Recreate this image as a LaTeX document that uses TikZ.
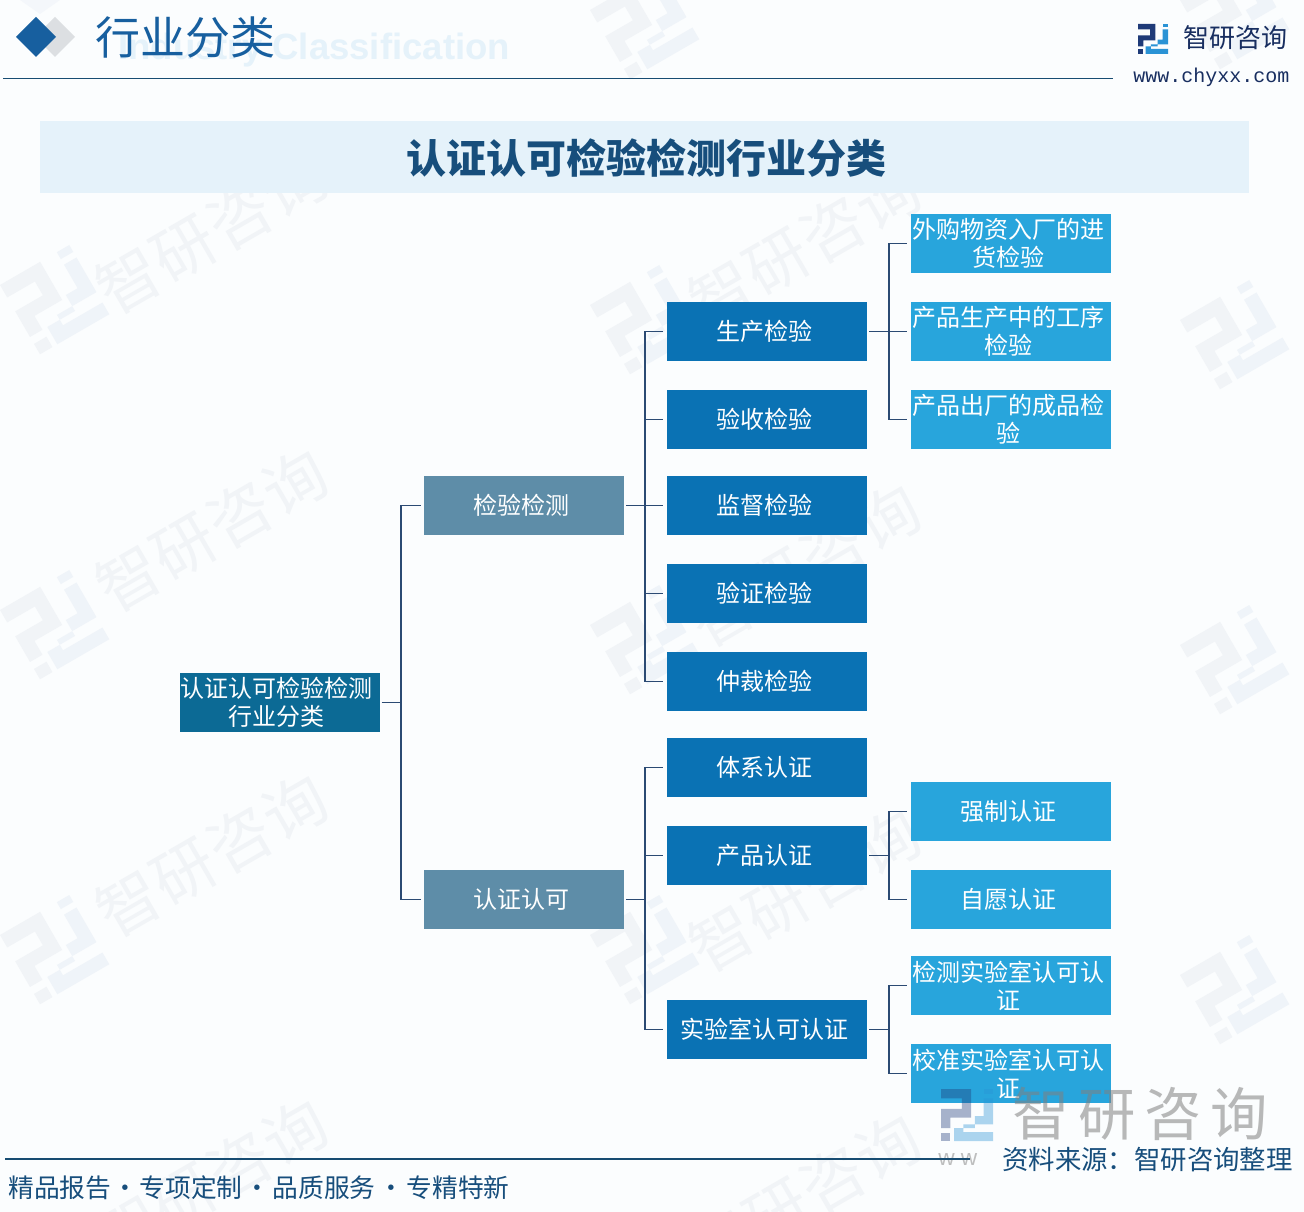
\documentclass[tikz,border=0pt]{standalone}
\usepackage{fontspec}
\setmainfont{Noto Sans CJK SC}
\newfontfamily\latinsans{Liberation Sans}
\newfontfamily\latinmono{Liberation Mono}
\definecolor{pagebg}{HTML}{FBFDFE}
\definecolor{band}{HTML}{E5F2FA}
\definecolor{rootc}{HTML}{0C6A95}
\definecolor{lonec}{HTML}{5E8DA8}
\definecolor{ltwoc}{HTML}{0A72B4}
\definecolor{lthreec}{HTML}{28A5DC}
\definecolor{linkc}{HTML}{2B4A73}
\definecolor{rulec}{HTML}{174C72}
\definecolor{headc}{HTML}{175F9F}
\definecolor{titlec}{HTML}{174E7C}
\definecolor{navy}{HTML}{1E3A78}
\definecolor{sky}{HTML}{2A93D5}
\definecolor{wmark}{HTML}{F1F4F7}
\definecolor{wmarkb}{HTML}{EFF4F9}
\newcommand\tk{\hspace*{3pt}}
\tikzset{
  x=.75pt,y=-.75pt,
  boxbase/.style={minimum width=150pt,minimum height=44.25pt,inner sep=0pt,text=white,align=center,
    font=\fontsize{18}{21}\selectfont},
  rootbox/.style={boxbase,fill=rootc},
  lonebox/.style={boxbase,fill=lonec},
  ltwobox/.style={boxbase,fill=ltwoc},
  lthreebox/.style={boxbase,fill=lthreec},
  conn/.style={draw=linkc,line width=1.1pt},
  wmtext/.style={text=wmark,font=\fontsize{47}{50}\selectfont,inner sep=0pt},
  logomark/.pic={
    \fill[pic actions,fill=\logoa] (0,0)--(.58,0)--(.58,.55)--(.18,.55)--(.18,.75)--(0,.75)--(0,.38)--(.4,.38)--(.4,.18)--(0,.18)--cycle;
    \fill[pic actions,fill=\logoa] (0,.85) rectangle (.18,1);
    \fill[pic actions,fill=\logob] (.82,0) rectangle (1,.1);
    \fill[pic actions,fill=\logob] (.25,.75)--(.25,1)--(1,1)--(1,.83)--(.43,.83)--(.43,.68)--(1,.68)--(1,.18)--(.82,.18)--(.82,.52)--(.65,.52)--(.65,.75)--cycle;
  },
}
\newcommand\logoa{navy}
\newcommand\logob{sky}
\begin{document}
\begin{tikzpicture}
\useasboundingbox (0,0) rectangle (1304,1212);
\fill[pagebg] (0,0) rectangle (1304,1212);

% faint watermarks
\begingroup
\renewcommand\logoa{wmark}\renewcommand\logob{wmarkb}
\foreach \i/\px/\py in {1/212/232,2/212/530,3/212/855,4/212/1180,5/805/245,6/805/565,7/805/890,8/805/1195}{
  \node[wmtext,rotate=30] (wm\i) at (\px,\py) {智\hspace{1pt}研\hspace{1pt}咨\hspace{1pt}询};
}
\foreach \px/\py in {0/285,0/610,0/935,590/305,590/625,590/935,1180/320,1180/645,1180/975,590/10,1180/0}{
  \pic[rotate=30,scale=80] at (\px,\py) {logomark};
}
\endgroup

% header
\fill[wmarkb!70!white] (20,0) -- (60,0) -- (40,14) -- cycle;
\node[anchor=west,inner sep=0pt,text=band,font=\latinsans\bfseries\fontsize{27.4}{30}\selectfont] (ghost) at (118,50) {Industry Classification};
\fill[wmarkb!60!lightgray] (55,17) -- (75,37) -- (55,57) -- (35,37) -- cycle;
\fill[headc] (36,17) -- (56,37) -- (36,57) -- (16,37) -- cycle;
\node[anchor=west,inner sep=0pt,text=headc,font=\fontsize{33.75}{36}\selectfont] (head) at (95,37) {行业分类};
\coordinate (hl) at (3,78.5);
\coordinate (hr) at (1113,78.5);
\draw[rulec,line width=1.1pt] (hl) -- (hr);

% top-right logo
\pic[scale=30] at (1138,24) {logomark};
\node[anchor=west,inner sep=0pt,text=navy!80!black,font=\fontsize{19.5}{22}\selectfont] (brand) at (1183,38) {智研咨询};
\node[anchor=west,inner sep=0pt,text=navy!80!black,font=\latinmono\fontsize{15}{17}\selectfont] (web) at (1133,77) {www.chyxx.com};

% title band
\fill[band] (40,121) rectangle (1249,193);
\node[inner sep=0pt,text=titlec,font=\bfseries\fontsize{30}{34}\selectfont] (title) at (646.5,158) {认证认可检验检测行业分类};

% boxes
\node[rootbox] (root) at (280,702.5) {认证认可检验检测\tk\tk\\行业分类\tk\tk};
\node[lonebox] (jc) at (523.5,505.5) {检验检测\tk};
\node[lonebox] (rz) at (523.5,899.5) {认证认可\tk};

\node[ltwobox] (sc) at (766.5,331.5) {生产检验\tk};
\node[ltwobox] (ys) at (766.5,419.5) {验收检验\tk};
\node[ltwobox] (jd) at (766.5,505.5) {监督检验\tk};
\node[ltwobox] (yz) at (766.5,593.5) {验证检验\tk};
\node[ltwobox] (zc) at (766.5,681.5) {仲裁检验\tk};
\node[ltwobox] (tx) at (766.5,767.5) {体系认证\tk};
\node[ltwobox] (cp) at (766.5,855.5) {产品认证\tk};
\node[ltwobox] (sy) at (766.5,1029.5) {实验室认可认证\tk};

\node[lthreebox] (wg) at (1010.5,243.5) {外购物资入厂的进\tk\\货检验\tk};
\node[lthreebox] (gx) at (1010.5,331.5) {产品生产中的工序\tk\\检验\tk};
\node[lthreebox] (cc) at (1010.5,419.5) {产品出厂的成品检\tk\\验\tk};
\node[lthreebox] (qz) at (1010.5,811.5) {强制认证\tk};
\node[lthreebox] (zy) at (1010.5,899.5) {自愿认证\tk};
\node[lthreebox] (jcs) at (1010.5,985.5) {检测实验室认可认\tk\\证\tk};
\node[lthreebox] (jzs) at (1010.5,1073.5) {校准实验室认可认\tk\\证\tk};

% connectors
\coordinate (t0) at (401,702.5);
\draw[conn,shorten <=1pt] (root.east) -- (t0);
\draw[conn,shorten >=1.5pt] (t0) |- (jc.west);
\draw[conn,shorten >=1.5pt] (t0) |- (rz.west);

\coordinate (t1) at (645,505.5);
\draw[conn,shorten <=2pt] (jc.east) -- (t1);
\foreach \n in {sc,ys,jd,yz,zc}{\draw[conn,shorten >=2.5pt] (t1) |- (\n.west);}

\coordinate (t2) at (645,899.5);
\draw[conn,shorten <=2pt] (rz.east) -- (t2);
\foreach \n in {tx,cp,sy}{\draw[conn,shorten >=2.5pt] (t2) |- (\n.west);}

\coordinate (t3) at (889,331.5);
\draw[conn,shorten <=2pt] (sc.east) -- (t3);
\foreach \n in {wg,gx,cc}{\draw[conn,shorten >=2.5pt] (t3) |- (\n.west);}

\coordinate (t4) at (889,855.5);
\draw[conn,shorten <=2pt] (cp.east) -- (t4);
\foreach \n in {qz,zy}{\draw[conn,shorten >=2.5pt] (t4) |- (\n.west);}

\coordinate (t5) at (889,1029.5);
\draw[conn,shorten <=2pt] (sy.east) -- (t5);
\foreach \n in {jcs,jzs}{\draw[conn,shorten >=2.5pt] (t5) |- (\n.west);}

% bottom-right watermark, over the box
\begingroup
\renewcommand\logoa{navy}\renewcommand\logob{sky}
\pic[scale=52,opacity=.38] at (941,1089) {logomark};
\endgroup
\node[anchor=west,inner sep=0pt,text=gray,opacity=.55,font=\fontsize{43}{46}\selectfont] (bigwm) at (1012,1114) {智\hspace{6.5pt}研\hspace{6.5pt}咨\hspace{6.5pt}询};
\node[anchor=west,inner sep=0pt,text=gray,opacity=.5,font=\latinsans\fontsize{17}{19}\selectfont] (ghostweb) at (938,1160) {w w};

% footer
\coordinate (fl) at (5,1159);
\coordinate (fr) at (970,1159);
\draw[rulec,line width=1.1pt] (fl) -- (fr);
\node[anchor=west,inner sep=0pt,text=titlec,font=\fontsize{19.8}{22}\selectfont] (src) at (1002,1160) {资料来源：智研咨询整理};
\node[anchor=west,inner sep=0pt,text=titlec,font=\fontsize{19.3}{22}\selectfont] (slogan) at (8,1188) {精品报告\hspace{1pt}·\hspace{1pt}专项定制\hspace{1.7pt}·\hspace{1.7pt}品质服务\hspace{2pt}·\hspace{2pt}专精特新};
\end{tikzpicture}
\end{document}
